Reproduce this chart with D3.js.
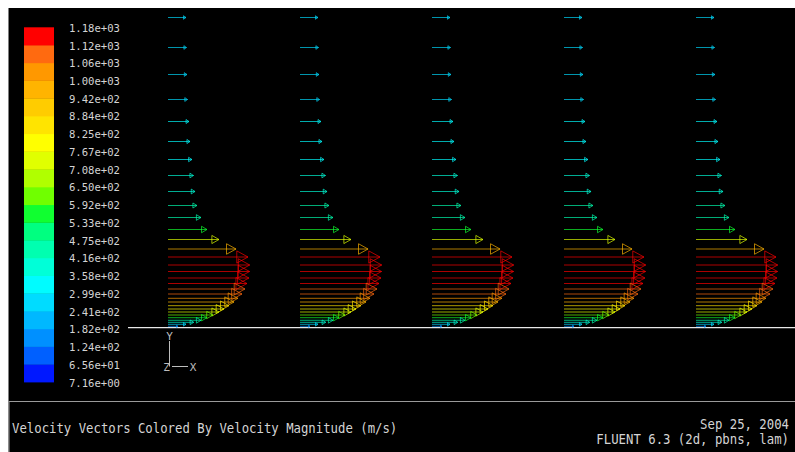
<!DOCTYPE html>
<html>
<head>
<meta charset="utf-8">
<script src="https://cdn.jsdelivr.net/npm/d3@7"></script>
<style>
  html, body { margin: 0; padding: 0; background: #ffffff; overflow: hidden; }
  svg { display: block; }
</style>
</head>
<body>
<svg id="chart" width="795" height="452"></svg>
<script>
// Streamwise stations where the profiles are sampled (m)
const stations = [0.1, 0.2, 0.3, 0.4, 0.5];
// Cell-centre distance from the wall (mm)
const heights = [31.0, 28.0, 25.3, 22.8, 20.6, 18.6, 16.8, 15.2, 13.6, 12.2, 11.0, 9.8,
                 8.8, 7.85, 7.05, 6.25, 5.6, 4.95, 4.4, 3.85, 3.35, 2.92, 2.55, 2.18,
                 1.85, 1.55, 1.25, 0.98, 0.72, 0.52, 0.32, 0.12];
// Velocity magnitude at each cell (m/s)
const speeds = [259, 266, 273, 281, 302, 317, 345, 367, 389, 417, 475, 561,
                734, 979, 1151, 1176, 1174, 1165, 1137, 1108, 1065, 1007, 950, 878,
                806, 734, 648, 561, 475, 370, 259, 144];

// Colour map levels, bottom to top
const levelLabels = ["7.16e+00", "6.56e+01", "1.24e+02", "1.82e+02", "2.41e+02", "2.99e+02",
                     "3.58e+02", "4.16e+02", "4.75e+02", "5.33e+02", "5.92e+02", "6.50e+02",
                     "7.08e+02", "7.67e+02", "8.25e+02", "8.84e+02", "9.42e+02", "1.00e+03",
                     "1.06e+03", "1.12e+03", "1.18e+03"];
const levelColors = ["#0018ff", "#0060ff", "#0090ff", "#00b8ff", "#00dcff", "#00fcff",
                     "#00ffd8", "#00ffb0", "#00ff80", "#10ff30", "#70ff00", "#b0ff00",
                     "#e0ff00", "#ffff00", "#ffe400", "#ffcc00", "#ffb400", "#ff9800",
                     "#ff6a10", "#ff0000"];
const speedMin = 7.16, speedMax = 1177;

const titleText = "Velocity Vectors Colored By Velocity Magnitude (m/s)";
const dateText = "Sep 25, 2004";
const versionText = "FLUENT 6.3 (2d, pbns, lam)";

const W = 795, H = 452;
const FONT = "'DejaVu Sans Mono', 'Liberation Mono', monospace";
const TEXT = "#d4d4d4";

const svg = d3.select("#chart");

// Graphics window: black field inside a light frame
svg.append("rect").attr("x", 0).attr("y", 0).attr("width", W).attr("height", H).attr("fill", "#ffffff");
svg.append("rect").attr("x", 8.5).attr("y", 8).attr("width", W - 8.5).attr("height", H - 8).attr("fill", "#000000");

// Scales
const x = d3.scaleLinear().domain([0.1, 0.5]).range([168, 696]);
const y = d3.scaleLinear().domain([0, 31]).range([327.5, 17.5]);
const len = d3.scaleLinear().domain([0, 1180]).range([0, 82]);
const color = d3.scaleQuantize().domain([speedMin, speedMax]).range(levelColors);

// Colour bar
const barY = d3.scaleLinear().domain([0, levelColors.length]).range([382, 27.3]);
const bar = svg.append("g");
bar.selectAll("rect")
  .data(levelColors)
  .join("rect")
  .attr("x", 24)
  .attr("width", 30)
  .attr("y", (d, i) => barY(i + 1))
  .attr("height", (d, i) => barY(i) - barY(i + 1) + 0.4)
  .attr("fill", d => d);
bar.selectAll("text")
  .data(levelLabels)
  .join("text")
  .attr("x", 69)
  .attr("y", (d, i) => barY(i) + 1)
  .attr("dominant-baseline", "central")
  .attr("font-family", FONT)
  .attr("font-size", 11)
  .attr("textLength", 51)
  .attr("lengthAdjust", "spacingAndGlyphs")
  .attr("fill", TEXT)
  .text(d => d);

// Wall
svg.append("line")
  .attr("x1", 128).attr("x2", W)
  .attr("y1", y(0) + 0.2).attr("y2", y(0) + 0.2)
  .attr("stroke", "#e8e8e8").attr("stroke-width", 1.2);

// Velocity vectors
const cells = [];
stations.forEach(s => heights.forEach((h, i) => cells.push({ s, h, v: speeds[i] })));

function arrowPath(d) {
  const x0 = x(d.s), yy = y(d.h), L = len(d.v);
  const x1 = x0 + L;
  const hl = 0.14 * L, hw = 0.07 * L + 0.5;
  return `M${x0},${yy}L${x1},${yy}M${x1},${yy}L${x1 - hl},${yy - hw}L${x1 - hl},${yy + hw}Z`;
}

svg.append("g")
  .selectAll("path")
  .data(cells)
  .join("path")
  .attr("d", arrowPath)
  .attr("fill", "none")
  .attr("stroke", d => color(d.v))
  .attr("stroke-opacity", 0.68)
  .attr("stroke-width", 1);

// Coordinate triad
const triad = svg.append("g").attr("stroke", "#bdbdbd").attr("stroke-width", 1);
triad.append("line").attr("x1", 169.5).attr("x2", 169.5).attr("y1", 341).attr("y2", 366.5);
triad.append("line").attr("x1", 172).attr("x2", 188).attr("y1", 366.5).attr("y2", 366.5);
const triadText = svg.append("g")
  .attr("font-family", FONT).attr("font-size", 11).attr("fill", "#bdbdbd")
  .attr("text-anchor", "middle").attr("dominant-baseline", "central");
triadText.append("text").attr("x", 169.5).attr("y", 336.5).text("Y");
triadText.append("text").attr("x", 166.5).attr("y", 367.5).text("Z");
triadText.append("text").attr("x", 193).attr("y", 367.5).text("X");

// Caption panel
svg.append("line")
  .attr("x1", 8.5).attr("x2", W).attr("y1", 401.5).attr("y2", 401.5)
  .attr("stroke", "#9a9a9a").attr("stroke-width", 1);
svg.append("line")
  .attr("x1", 9).attr("x2", 9).attr("y1", 401.5).attr("y2", H)
  .attr("stroke", "#9a9a9a").attr("stroke-width", 1);

// Condensed caption text: monospace glyphs squeezed horizontally
const squeeze = 0.88;
function caption(str, px, py, anchor) {
  svg.append("g")
    .attr("transform", `translate(${px},${py}) scale(${squeeze},1)`)
    .append("text")
    .attr("x", 0).attr("y", 0)
    .attr("text-anchor", anchor)
    .attr("dominant-baseline", "central")
    .attr("font-family", FONT).attr("font-size", 14)
    .attr("fill", TEXT)
    .text(str);
}
caption(titleText, 12, 428, "start");
caption(dateText, 789, 424, "end");
caption(versionText, 789, 439, "end");
</script>
</body>
</html>
